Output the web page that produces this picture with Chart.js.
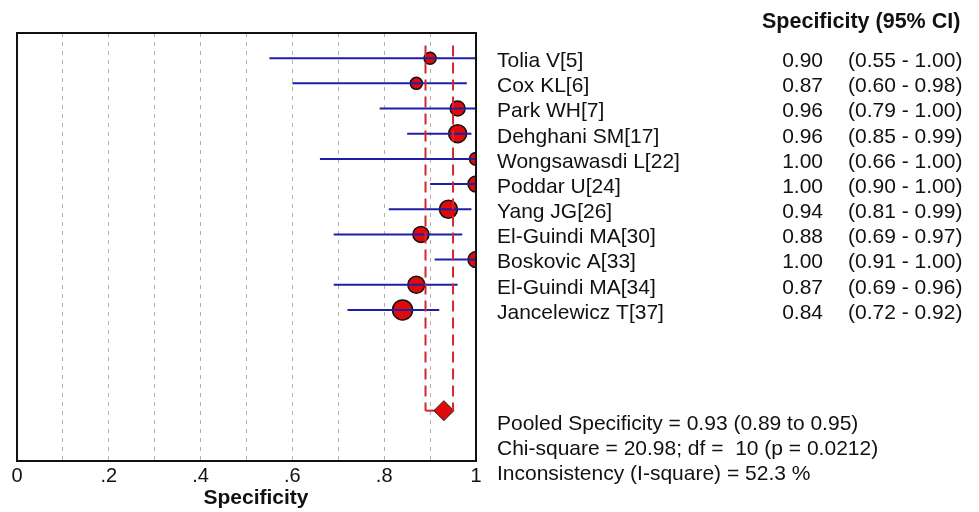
<!DOCTYPE html>
<html>
<head>
<meta charset="utf-8">
<script src="https://cdn.jsdelivr.net/npm/chart.js@4/dist/chart.umd.min.js"></script>
<style>
  html, body { margin: 0; padding: 0; background: #ffffff; }
  #wrap { width: 979px; height: 512px; position: relative; }
</style>
</head>
<body>
<div id="wrap"><canvas id="forest" width="979" height="512"></canvas></div>
<script>
// Study-level specificity estimates with 95% confidence intervals
const studies = [
  'Tolia V[5]', 'Cox KL[6]', 'Park WH[7]', 'Dehghani SM[17]', 'Wongsawasdi L[22]',
  'Poddar U[24]', 'Yang JG[26]', 'El-Guindi MA[30]', 'Boskovic A[33]',
  'El-Guindi MA[34]', 'Jancelewicz T[37]'
];
const specificity = [0.90, 0.87, 0.96, 0.96, 1.00, 1.00, 0.94, 0.88, 1.00, 0.87, 0.84];
const ciLower     = [0.55, 0.60, 0.79, 0.85, 0.66, 0.90, 0.81, 0.69, 0.91, 0.69, 0.72];
const ciUpper     = [1.00, 0.98, 1.00, 0.99, 1.00, 1.00, 0.99, 0.97, 1.00, 0.96, 0.92];
// Relative study weights (marker area)
const studyWeight = [36, 36, 56, 81, 42, 64, 81, 64, 64, 72, 100];

// Pooled estimate
const pooledEstimate = 0.93;
const pooledLower = 0.89;
const pooledUpper = 0.95;

const headerText = 'Specificity (95% CI)';
const axisTitle = 'Specificity';
const summaryLines = [
  'Pooled Specificity = 0.93 (0.89 to 0.95)',
  'Chi-square = 20.98; df =  10 (p = 0.0212)',
  'Inconsistency (I-square) = 52.3 %'
];
const tickLabels = { 0: '0', 2: '.2', 4: '.4', 6: '.6', 8: '.8', 10: '1' };

// Row layout on the vertical scale (one unit per study row)
const pooledRow = studies.length + 3;
const refLineTop = -0.5;

const FONT = '"Liberation Sans", Arial, sans-serif';
const RED = '#e00a0a';
const RED_LINE = '#d4262e';
const BLUE = '#1f1fa5';

const fmt = v => v.toFixed(2);

// CI segments: one two-point line per study
const ciDatasets = studies.map((s, i) => ({
  type: 'line',
  data: [{ x: ciLower[i], y: i }, { x: ciUpper[i], y: i }],
  borderColor: BLUE,
  borderWidth: 2,
  pointRadius: 0,
  fill: false,
  order: 2
}));

const refLine = (x) => ({
  type: 'line',
  data: [{ x: x, y: refLineTop }, { x: x, y: pooledRow }],
  borderColor: RED_LINE,
  borderWidth: 2,
  borderDash: [11, 6],
  pointRadius: 0,
  fill: false,
  order: 1
});

const bracket = (x) => ({
  type: 'line',
  data: [{ x: x, y: pooledRow }, { x: pooledEstimate, y: pooledRow }],
  borderColor: RED_LINE,
  borderWidth: 2,
  pointRadius: 0,
  fill: false,
  order: 4
});

// Text columns, header, summary block and frame
const annotations = {
  id: 'forestText',
  afterDraw(chart) {
    const { ctx, chartArea, scales } = chart;
    const y = scales.y;
    ctx.save();
    ctx.fillStyle = '#111111';
    ctx.textBaseline = 'middle';

    ctx.font = 'bold 21.5px ' + FONT;
    ctx.textAlign = 'left';
    ctx.fillText(headerText, 762, 22);

    ctx.font = '21px ' + FONT;
    studies.forEach((name, i) => {
      const py = y.getPixelForValue(i) + 3;
      ctx.textAlign = 'left';
      ctx.fillText(name, 497, py);
      ctx.textAlign = 'right';
      ctx.fillText(fmt(specificity[i]), 823, py);
      ctx.textAlign = 'left';
      ctx.fillText('(' + fmt(ciLower[i]) + ' - ' + fmt(ciUpper[i]) + ')', 848, py);
    });

    summaryLines.forEach((line, k) => {
      ctx.textAlign = 'left';
      ctx.fillText(line, 497, y.getPixelForValue(pooledRow + 0.5 + k) + 1);
    });

    ctx.font = 'bold 21px ' + FONT;
    ctx.textAlign = 'center';
    ctx.fillText(axisTitle, 256, 498);

    // plot frame
    ctx.strokeStyle = '#111111';
    ctx.lineWidth = 2;
    ctx.strokeRect(chartArea.left, chartArea.top, chartArea.right - chartArea.left, chartArea.bottom - chartArea.top);
    ctx.restore();
  }
};

new Chart(document.getElementById('forest'), {
  type: 'scatter',
  data: {
    datasets: [
      refLine(pooledLower),
      refLine(pooledUpper),
      ...ciDatasets,
      {
        type: 'scatter',
        data: [{ x: pooledEstimate, y: pooledRow }],
        pointStyle: 'rectRot',
        pointRadius: 10,
        backgroundColor: RED,
        borderColor: '#222222',
        borderWidth: 1,
        order: 3
      },
      bracket(pooledLower),
      bracket(pooledUpper),
      {
        type: 'scatter',
        data: specificity.map((v, i) => ({ x: v, y: i })),
        pointStyle: 'circle',
        pointRadius: studyWeight.map(w => Math.sqrt(w)),
        backgroundColor: RED,
        borderColor: '#111111',
        borderWidth: 1.5,
        order: 5
      }
    ]
  },
  options: {
    responsive: false,
    animation: false,
    devicePixelRatio: 1,
    layout: { padding: { left: 17, right: 503, top: 33, bottom: 0 } },
    plugins: { legend: { display: false }, tooltip: { enabled: false } },
    scales: {
      x: {
        type: 'linear',
        min: 0,
        max: 1,
        afterFit(scale) { scale.height = 51; },
        afterBuildTicks(scale) {
          scale.ticks = Array.from({ length: 11 }, (_, k) => ({ value: k / 10 }));
        },
        ticks: {
          autoSkip: false,
          maxRotation: 0,
          padding: 3,
          color: '#111111',
          font: { family: FONT, size: 20 },
          callback: (v) => {
            const k = Math.round(v * 10);
            return tickLabels[k] !== undefined ? tickLabels[k] : '';
          }
        },
        grid: {
          drawTicks: false,
          lineWidth: 1,
          color: (c) => {
            const k = Math.round(c.tick.value * 10);
            return (k === 0 || k === 10) ? 'rgba(0,0,0,0)' : '#b0b0b0';
          }
        },
        border: { display: false, dash: [4, 5] }
      },
      y: {
        type: 'linear',
        display: false,
        reverse: true,
        min: -1,
        max: 16
      }
    }
  },
  plugins: [annotations]
});
</script>
</body>
</html>
